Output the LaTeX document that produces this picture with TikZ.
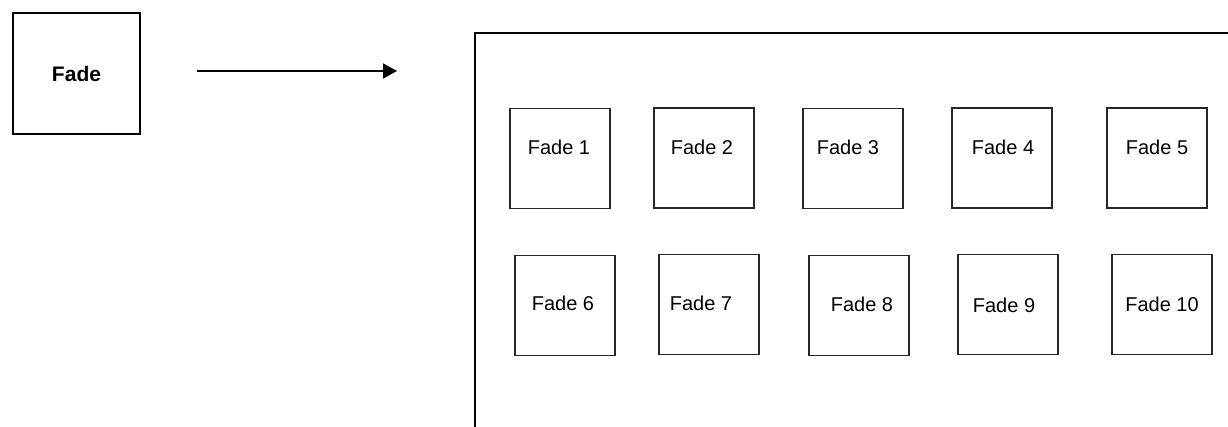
\documentclass[tikz,border=0pt]{standalone}
\usepackage{fontspec}
\setmainfont{Liberation Sans}
\usetikzlibrary{arrows.meta}
\begin{document}
\begin{tikzpicture}[x=1pt,y=-1pt,
  bigbox/.style={draw=black, line width=2pt, minimum width=127pt, minimum height=121pt, inner sep=0pt, font=\fontsize{21}{24}\selectfont\bfseries},
  smallbox/.style={draw=black!85, line width=1.1pt, minimum width=100pt, minimum height=100pt, inner sep=0pt},
  lbl/.style={inner sep=0pt, font=\fontsize{20}{24}\selectfont},
  conn/.style={line width=2pt, -{Triangle[length=14pt,width=15pt]}},
  frame/.style={line width=2.2pt}]
\path[use as bounding box] (0,0) rectangle (1228,427);
\clip (0,0) rectangle (1228,427);
% left box and arrow
\node[bigbox] (fade) at (76.5,74) {Fade};
\coordinate (a1) at (197,71);
\coordinate (a2) at (397,71);
\draw[conn] (a1) -- (a2);
% container frame (partly outside the picture)
\coordinate (fbl) at (475,440);
\coordinate (ftl) at (475,33);
\coordinate (ftr) at (1240,33);
\draw[frame] (fbl) -- (ftl) -- (ftr);
% row 1
\node[smallbox] (f1) at (560,158.5) {};
\node[smallbox] (f2) at (704,158) {};
\node[smallbox] (f3) at (853,158.5) {};
\node[smallbox] (f4) at (1002,158) {};
\node[smallbox] (f5) at (1157,158) {};
\node[lbl] (t1) at (559,147) {Fade 1};
\node[lbl] (t2) at (702,147) {Fade 2};
\node[lbl] (t3) at (848,147) {Fade 3};
\node[lbl] (t4) at (1003,147) {Fade 4};
\node[lbl] (t5) at (1157,147) {Fade 5};
% row 2
\node[smallbox] (f6) at (565,305.5) {};
\node[smallbox] (f7) at (709,304.5) {};
\node[smallbox] (f8) at (859,305.5) {};
\node[smallbox] (f9) at (1008,304.5) {};
\node[smallbox] (f10) at (1162,304.5) {};
\node[lbl] (t6) at (563,303.5) {Fade 6};
\node[lbl] (t7) at (701,303.5) {Fade 7};
\node[lbl] (t8) at (862,304) {Fade 8};
\node[lbl] (t9) at (1004,305) {Fade 9};
\node[lbl] (t10) at (1162,304) {Fade 10};
\end{tikzpicture}
\end{document}
